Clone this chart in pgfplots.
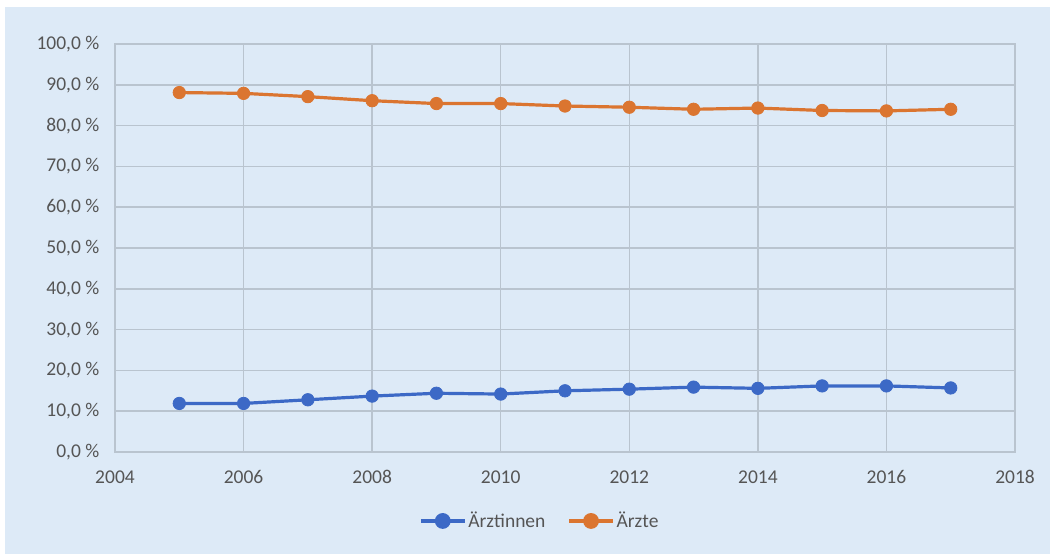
\documentclass[border=0pt]{standalone}
\usepackage{pgfplots}
\pgfplotsset{compat=1.18}
\usepackage{fontspec}
\setmainfont{Carlito}
\definecolor{panel}{HTML}{DDEAF7}
\definecolor{gridc}{HTML}{B9C4CF}
\definecolor{txt}{HTML}{555555}
\definecolor{blueA}{HTML}{3C69C6}
\definecolor{orangeA}{HTML}{DB7530}
\begin{document}
\fontsize{19.5pt}{23pt}\selectfont
\begin{tikzpicture}[x=1pt,y=1pt]
  \fill[white] (-115,-102) rectangle (935,452);
  \fill[panel] (-110,-102) rectangle (935,445);
  \begin{axis}[
    at={(0,0)}, anchor=south west,
    scale only axis,
    width=900pt, height=408pt,
    xmin=2004, xmax=2018, ymin=0, ymax=100,
    xtick={2004,2006,...,2018},
    ytick={0,10,...,100},
    grid=major,
    major grid style={gridc, line width=1.5pt},
    axis line style={gridc, line width=1.5pt},
    major tick length=0pt,
    tick label style={txt, font=\fontsize{19.5pt}{23pt}\selectfont},
    /pgf/number format/assume math mode=true,
    x tick label style={/pgf/number format/1000 sep={}},
    xticklabel style={anchor=base, yshift=-31pt},
    yticklabel style={xshift=-9pt},
    yticklabel={\pgfmathprintnumber[fixed,fixed zerofill,precision=1,use comma,assume math mode=true]{\tick}~\%},
    legend style={at={(0.472,-0.169)}, anchor=center, draw=none, fill=none,
      legend columns=2, font=\fontsize{19.5pt}{23pt}\selectfont, text=txt,
      /tikz/every even column/.append style={column sep=20pt}},
    legend image code/.code={
      \draw[#1, mark=none] (0pt,0pt) -- (44pt,0pt);
      \fill[#1] (22pt,0pt) circle (6.3pt);
    },
    every axis plot/.append style={line width=3.2pt, mark=*, mark size=6.2pt},
  ]
  \addplot[blueA, mark options={fill=blueA, draw=blueA, line width=0.8pt}] coordinates {
    (2005,11.9) (2006,11.9) (2007,12.8) (2008,13.7) (2009,14.4) (2010,14.2)
    (2011,15.0) (2012,15.4) (2013,15.9) (2014,15.6) (2015,16.2) (2016,16.2) (2017,15.7)
  };
  \addlegendentry{Ärztinnen}
  \addplot[orangeA, mark options={fill=orangeA, draw=orangeA, line width=0.8pt}] coordinates {
    (2005,88.1) (2006,87.9) (2007,87.1) (2008,86.1) (2009,85.4) (2010,85.4)
    (2011,84.8) (2012,84.5) (2013,84.0) (2014,84.3) (2015,83.7) (2016,83.6) (2017,84.0)
  };
  \addlegendentry{Ärzte}
  \end{axis}
  \pgfresetboundingbox
  \useasboundingbox (-115,-102) rectangle (935,452);
\end{tikzpicture}
\end{document}
